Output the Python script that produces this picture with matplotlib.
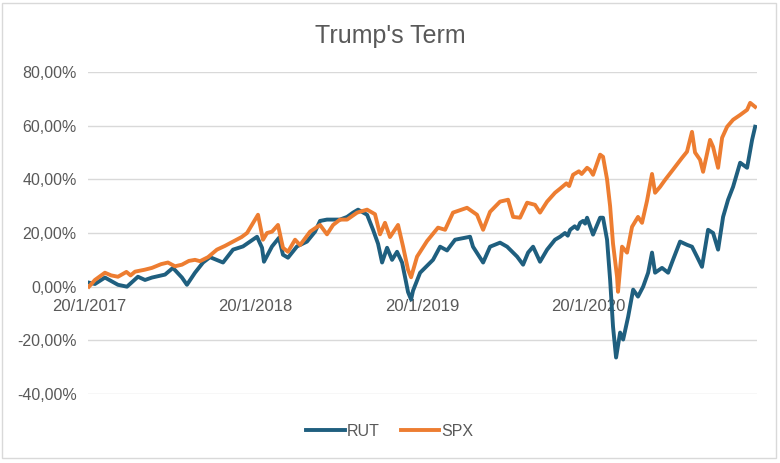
import matplotlib
matplotlib.use('Agg')
import matplotlib.pyplot as plt
from matplotlib.patches import Rectangle

plt.rcParams['font.family'] = ['Liberation Sans', 'DejaVu Sans']

# months since 20/1/2017 and cumulative return (%)
spx_months = [0, 0.43, 1.15, 1.6, 2.09, 2.7, 3.0, 3.32, 4.0, 4.54, 5.2, 5.69, 6.2, 6.70, 7.2, 7.64,
              8.0, 8.58, 9.22, 9.8, 10.38, 11.0, 11.39,
              12.18, 12.54, 12.83, 13.19, 13.62, 13.98, 14.34, 14.85, 15.21, 15.93, 16.65, 17.15,
              17.59, 18.09, 18.60, 19.32, 20.04, 20.61, 20.97, 21.33, 21.69, 22.27, 22.63, 22.99,
              23.21, 23.64, 24.36, 25.15, 25.66, 26.23, 27.24, 27.96, 28.40, 28.90, 29.62, 30.20,
              30.56, 31.06, 31.57, 32.14, 32.50, 33.01, 33.58, 33.94, 34.4, 34.6, 34.88, 35.3,
              35.5, 35.89, 36.1, 36.32, 36.83,
              37.04, 37.33, 37.55, 37.76, 38.05, 38.12, 38.41, 38.77, 39.13, 39.56, 39.85, 40.21,
              40.57, 40.79, 41.15, 41.51, 42.08, 42.73, 43.09, 43.45, 43.67, 44.03, 44.25, 44.75,
              44.97, 45.33, 45.62, 45.98, 46.41, 46.92, 47.42, 47.64, 48.0]
spx = [0, 2.5, 5.2, 4.2, 3.7, 5.5, 4.2, 5.6, 6.3, 7, 8.4, 9, 7.6, 8.2, 9.6, 10,
       9.5, 11, 13.8, 15.2, 16.8, 18.5, 20,
       26.8, 17.5, 20, 20.5, 23, 14.5, 13, 17.5, 15.5, 20.5, 23, 19.5,
       23, 25, 25, 27.6, 28.7, 27, 19.5, 23.8, 18.5, 23, 15, 6.3,
       3.5, 11.2, 17, 22, 21.2, 27.6, 29.4, 26.8, 21.2, 27.9, 31.7, 32.4,
       26, 25.7, 31.3, 30.5, 27.6, 31.7, 35, 36.5, 38.5, 37.5, 41.7, 43,
       42, 44.3, 43.5, 41.7, 49.2,
       48.4, 40, 30, 16, 3.7, -1.9, 14.9, 12.7, 22.3, 26, 23.8, 32,
       42, 35, 37.2, 39.8, 43.6, 48, 50.3, 57.7, 50, 47.3, 42.8, 54.7,
       52.1, 44.3, 55.5, 59.6, 62.2, 64, 65.9, 68.5, 67]

rut_months = [0, 0.43, 1.15, 2.09, 2.74, 3.53, 4.04, 4.54, 5.48, 6.05, 6.70, 7.06, 7.64, 8.22,
              8.72, 9.66, 10.38, 11.10, 12.11, 12.47, 12.61, 13.19, 13.69, 13.98, 14.34, 14.99,
              15.71, 16.29, 16.65, 17.15, 17.59, 18.09, 18.60, 19.03, 19.39, 20.04, 20.47, 20.83,
              21.12, 21.48, 21.84, 22.20, 22.56, 22.77, 22.99, 23.21, 23.35, 23.86, 24.79, 25.30,
              25.80, 26.38, 27.46, 27.67, 28.40, 28.90, 29.62, 30.13, 30.85, 31.28, 31.64, 32.0,
              32.50, 33.01, 33.58, 33.94, 34.3, 34.5, 34.67, 35.0, 35.2, 35.39, 35.6, 35.75,
              35.89, 36.32, 36.83, 37.04, 37.33, 37.55,
              37.76, 37.98, 38.27, 38.49, 38.85, 39.21, 39.56, 39.93, 40.29, 40.57, 40.79, 41.29,
              41.73, 42.08, 42.59, 43.09, 43.45, 43.81, 44.17, 44.61, 44.97, 45.33, 45.69, 46.05,
              46.41, 46.92, 47.42, 47.78, 48.0]
rut = [1.5, 1, 3.4, 0.7, 0, 3.7, 2.5, 3.4, 4.5, 7, 3.4, 0.7, 5.2, 9,
       11, 9, 13.8, 15, 18.6, 14.5, 9.3, 15, 18.2, 11.9, 10.8, 15,
       16.8, 20.5, 24.5, 25, 25, 25, 26, 27.6, 28.7, 26.8, 21.2, 16,
       9, 14.5, 10, 13, 9, 3.7, -2, -4.8, -1.5, 5.2, 10, 14.9,
       13.5, 17.5, 18.6, 14.9, 9, 14.9, 16.4, 14.9, 11.2, 8.2, 12.7, 14.9,
       9.3, 13.8, 17.5, 18.6, 20, 19, 21.2, 22.5, 21.5, 23.8, 24.5, 23.5,
       25.7, 19.4, 25.7, 25.7, 17.5, 2.6,
       -14.9, -26.4, -17.1, -19.7, -11.2, -1.1, -3.7, 0, 5.2, 12.7, 5.2, 7,
       5.2, 10, 16.8, 15.6, 14.9, 11.2, 7.4, 21.2, 20, 13.8, 26, 32.4,
       37.2, 46.2, 44.3, 54.7, 59.6]

tick_months = [0, 12, 24, 36]
tick_labels = ['20/1/2017', '20/1/2018', '20/1/2019', '20/1/2020']
y_ticks = [-40, -20, 0, 20, 40, 60, 80]

text_color = '#595959'
fig = plt.figure(figsize=(7.8, 4.63), dpi=100)
fig.patches.append(Rectangle((0.003, 0.01), 0.992, 0.984, transform=fig.transFigure,
                             fill=False, edgecolor='#d9d9d9', lw=1))
ax = fig.add_axes([0.1128, 0.149, 0.858, 0.6955])

ax.plot(rut_months, rut, color='#1f5f7f', lw=2.8, label='RUT', solid_joinstyle='round')
ax.plot(spx_months, spx, color='#ed7d31', lw=2.8, label='SPX', solid_joinstyle='round')

ax.set_xlim(-0.07, 48.15)
ax.set_ylim(-40, 80)
ax.set_yticks(y_ticks)
ax.set_yticklabels([f'{v},00%' for v in y_ticks])
ax.grid(axis='y', color='#d9d9d9', lw=1)
ax.set_axisbelow(True)
for s in ax.spines.values():
    s.set_visible(False)
ax.spines['bottom'].set_position(('data', 0))
ax.set_xticks(tick_months)
ax.set_xticklabels(tick_labels)
ax.tick_params(axis='both', length=0, labelcolor=text_color)
ax.tick_params(axis='x', pad=9, labelsize=12)
ax.tick_params(axis='y', pad=8, labelsize=11.5)
for lbl in ax.get_xticklabels():
    lbl.set_zorder(5)

fig.suptitle("Trump's Term", x=0.5, y=0.948, fontsize=18, color=text_color)
fig.legend(loc='center', bbox_to_anchor=(0.5, 0.069), ncol=2, frameon=False,
           fontsize=11.5, labelcolor=text_color, handlelength=2.4, handletextpad=0.15,
           columnspacing=1.3)

fig.savefig('out.png', dpi=100)
